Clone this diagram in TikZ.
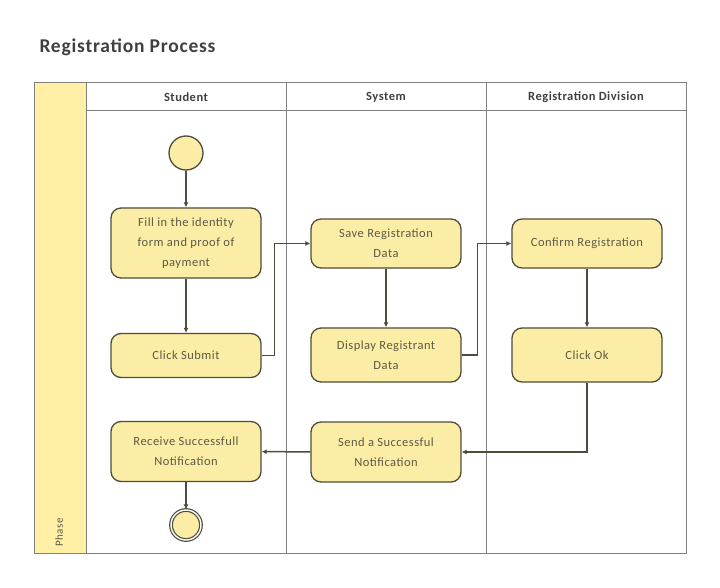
\documentclass[tikz,border=0pt]{standalone}
\usepackage{fontspec}
\setmainfont{Carlito}
\newfontfamily\diagfont{Carlito}[LetterSpace=4]
\usetikzlibrary{arrows.meta}
\definecolor{laneyellow}{HTML}{FFF0A6}
\definecolor{actyellow}{HTML}{FCEDA6}
\definecolor{actline}{HTML}{4E4C3A}
\definecolor{acttext}{HTML}{5C5A44}
\definecolor{frameline}{HTML}{808080}
\begin{document}
\begin{tikzpicture}[x=1pt,y=-1pt,
  activity/.style={draw=actline,fill=actyellow,line width=1.3pt,rounded corners=10pt,
    minimum width=150pt,align=center,text=acttext,font=\diagfont\fontsize{12.5}{20}\selectfont,inner sep=0pt},
  startstate/.style={circle,draw=actline,fill=actyellow,line width=1.3pt,minimum size=34pt,inner sep=0pt},
  endstate/.style={circle,draw=actline,fill=actyellow,line width=1.2pt,double=white,double distance=1.4pt,minimum size=30pt,inner sep=0pt},
  flow/.style={draw=actline,line width=1.5pt,-{Latex[length=5pt,width=5pt]}},
  lanehead/.style={font=\diagfont\bfseries\fontsize{12.5}{14}\selectfont,text=black!75}]
 \useasboundingbox (0,0) rectangle (720,588);
 % title
 \node[anchor=base west,font=\diagfont\bfseries\fontsize{19.5}{22}\selectfont,text=black!75] (title) at (36,53) {Registration Process};
 % pool and lanes
 \fill[laneyellow] (34,83) rectangle (86,553);
 \draw[frameline,line width=1pt] (34,83) rectangle (686,553);
 \draw[frameline,line width=1pt] (86,111) -- (686,111);
 \foreach \x in {86,286,486} \draw[frameline,line width=1pt] (\x,83) -- (\x,553);
 \node[lanehead] (hstudent) at (186,97) {Student};
 \node[lanehead] (hsystem) at (386,97) {System};
 \node[lanehead] (hdivision) at (586,97) {Registration Division};
 \node[rotate=90,anchor=west,text=acttext,font=\diagfont\fontsize{11}{12}\selectfont] (phase) at (59,550) {Phase};
 % student
 \node[startstate] (start) at (186,153) {};
 \node[activity,minimum height=70pt] (fill) at (186,243) {Fill in the identity\\form and proof of\\payment};
 \node[activity,minimum height=44pt] (submit) at (186,355.5) {Click Submit};
 \node[activity,minimum height=60pt] (receive) at (186,451.5) {Receive Successfull\\Notification};
 \node[endstate] (end) at (186,525) {};
 % system
 \node[activity,minimum height=49pt] (save) at (386,243.5) {Save Registration\\Data};
 \node[activity,minimum height=54pt] (display) at (386,355) {Display Registrant\\Data};
 \node[activity,minimum height=60pt] (send) at (386,452) {Send a Successful\\Notification};
 % registration division
 \node[activity,minimum height=49pt] (confirm) at (587,243.5) {Confirm Registration};
 \node[activity,minimum height=54pt] (clickok) at (587,355) {Click Ok};
 % flows
 \draw[flow] (start) -- (fill);
 \draw[flow] (fill) -- (submit);
 \draw[flow] (submit.east) -- ++(13,0) |- (save.west);
 \draw[flow] (save) -- (display);
 \draw[flow] (display.east) -- ++(16,0) |- (confirm.west);
 \draw[flow] (confirm) -- (clickok);
 \draw[flow] (clickok.south) |- (send.east);
 \draw[flow] (send) -- (receive);
 \draw[flow] (receive) -- (end);
\end{tikzpicture}
\end{document}
